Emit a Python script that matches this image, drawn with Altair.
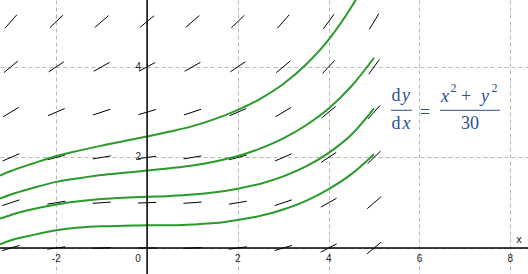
import altair as alt
import pandas as pd
import numpy as np

# ---- data ----
curve_x = [-3.24, -3.0, -2.5, -2.0, -1.5, -1.0, -0.5, 0.0, 0.5, 1.0, 1.5, 2.0, 2.5, 3.0, 3.5, 4.0, 4.5, 5.0]
curve_a = [1.60, 1.70, 1.87, 2.03, 2.15, 2.26, 2.36, 2.46, 2.57, 2.69, 2.85, 3.05, 3.30, 3.62, 4.05, 4.60, 5.32, 6.20]
curve_b = [1.09, 1.18, 1.33, 1.46, 1.54, 1.61, 1.66, 1.71, 1.76, 1.82, 1.91, 2.03, 2.20, 2.42, 2.71, 3.08, 3.57, 4.20]
curve_c = [0.65, 0.73, 0.86, 0.96, 1.03, 1.08, 1.11, 1.13, 1.15, 1.18, 1.23, 1.31, 1.42, 1.58, 1.80, 2.10, 2.50, 3.08]
curve_d = [0.08, 0.17, 0.29, 0.39, 0.45, 0.48, 0.49, 0.50, 0.50, 0.52, 0.55, 0.62, 0.71, 0.85, 1.04, 1.30, 1.63, 2.07]

field_x = [-3, -2, -1, 0, 1, 2, 3, 4, 5]
field_y = [0, 1, 2, 3, 4, 5]

x_ticks = [-2, 0, 2, 4, 6, 8]
x_tick_labels = ["-2", "0", "2", "4", "6", "8"]
y_ticks = [2, 4]
y_tick_labels = ["2", "4"]

X_DOMAIN = [-3.24, 8.39]
Y_DOMAIN = [-0.574, 5.475]

# ---- tables ----
curves = pd.concat([
    pd.DataFrame({"x": curve_x, "y": vals, "curve": name})
    for name, vals in [("a", curve_a), ("b", curve_b), ("c", curve_c), ("d", curve_d)]
])

half = 0.2
rows = []
for xv in field_x:
    for yv in field_y:
        m = (xv ** 2 + yv ** 2) / 30.0
        dx = half / np.sqrt(1 + m * m)
        dy = m * dx
        rows.append({"x1": xv - dx, "x2": xv + dx, "y1": yv - dy, "y2": yv + dy})
field = pd.DataFrame(rows)

xt = pd.DataFrame({"x": x_ticks, "label": x_tick_labels, "y": 0})
xt_main = xt[xt["x"] != 0]
xt_zero = xt[xt["x"] == 0]
yt = pd.DataFrame({"y": y_ticks, "label": y_tick_labels, "x": 0})

xs = alt.Scale(domain=X_DOMAIN, nice=False, zero=False)
ys = alt.Scale(domain=Y_DOMAIN, nice=False, zero=False)

grid_x_axis = alt.Axis(values=[-2, 0, 2, 4, 6, 8], grid=True, gridDash=[4, 3], gridColor="#b8b8b8",
                       gridWidth=1, labels=False, ticks=False, domain=False, title=None)
grid_y_axis = alt.Axis(values=[0, 2, 4], grid=True, gridDash=[4, 3], gridColor="#b8b8b8",
                       gridWidth=1, labels=False, ticks=False, domain=False, title=None)

base_grid = alt.Chart(pd.DataFrame({"x": [0.0], "y": [0.0]})).mark_point(opacity=0).encode(
    x=alt.X("x:Q", scale=xs, axis=grid_x_axis),
    y=alt.Y("y:Q", scale=ys, axis=grid_y_axis),
)

axis_x = alt.Chart(pd.DataFrame({"y": [0]})).mark_rule(color="black", strokeWidth=1.5).encode(
    y=alt.Y("y:Q", scale=ys), x=alt.value(0), x2=alt.value(528))
axis_y = alt.Chart(pd.DataFrame({"x": [0]})).mark_rule(color="black", strokeWidth=1.5).encode(
    x=alt.X("x:Q", scale=xs), y=alt.value(0), y2=alt.value(274))

segs = alt.Chart(field).mark_rule(color="black", strokeWidth=1).encode(
    x=alt.X("x1:Q", scale=xs), x2="x2:Q",
    y=alt.Y("y1:Q", scale=ys), y2="y2:Q")

lines = alt.Chart(curves).mark_line(color="#2a9a2a", strokeWidth=2, clip=True, interpolate="monotone").encode(
    x=alt.X("x:Q", scale=xs), y=alt.Y("y:Q", scale=ys), detail="curve:N")

font = "Liberation Sans"
xlab = alt.Chart(xt_main).mark_text(fontSize=10, font=font, baseline="middle", align="center", dy=11, color="#222").encode(
    x=alt.X("x:Q", scale=xs), y=alt.Y("y:Q", scale=ys), text="label:N")
xlab0 = alt.Chart(xt_zero).mark_text(fontSize=10, font=font, baseline="middle", align="center", dy=11, dx=-9, color="#222").encode(
    x=alt.X("x:Q", scale=xs), y=alt.Y("y:Q", scale=ys), text="label:N")
ylab = alt.Chart(yt).mark_text(fontSize=10, font=font, baseline="middle", align="right", dx=-6, color="#222").encode(
    x=alt.X("x:Q", scale=xs), y=alt.Y("y:Q", scale=ys), text="label:N")
xname = alt.Chart(pd.DataFrame({"t": ["x"]})).mark_text(fontSize=11, font=font, color="#222").encode(
    x=alt.value(519), y=alt.value(240), text="t:N")

# equation  dy/dx = (x^2 + y^2)/30
blue = "#2b4f91"
serif = "Liberation Serif"
eq_upright = pd.DataFrame([
    {"t": "d", "px": 396, "py": 100.5},
    {"t": "d", "px": 396, "py": 128.7},
    {"t": "=", "px": 425, "py": 118},
    {"t": "+", "px": 466, "py": 102},
    {"t": "30", "px": 470, "py": 128.7},
])
eq_italic = pd.DataFrame([
    {"t": "y", "px": 406, "py": 100.5},
    {"t": "x", "px": 406.5, "py": 128.7},
    {"t": "x", "px": 445, "py": 102},
    {"t": "y", "px": 485, "py": 102},
])
eq_sup = pd.DataFrame([
    {"t": "2", "px": 453.5, "py": 92},
    {"t": "2", "px": 494.5, "py": 92},
])
t_up = alt.Chart(eq_upright).mark_text(font=serif, fontSize=18, color=blue, baseline="alphabetic", align="center").encode(
    x=alt.X("px:Q", scale=None), y=alt.Y("py:Q", scale=None), text="t:N")
t_it = alt.Chart(eq_italic).mark_text(font=serif, fontSize=18, fontStyle="italic", color=blue, baseline="alphabetic", align="center").encode(
    x=alt.X("px:Q", scale=None), y=alt.Y("py:Q", scale=None), text="t:N")
t_sup = alt.Chart(eq_sup).mark_text(font=serif, fontSize=12, color=blue, baseline="alphabetic", align="center").encode(
    x=alt.X("px:Q", scale=None), y=alt.Y("py:Q", scale=None), text="t:N")
bars = pd.DataFrame({"a": [391, 440], "b": [412, 500], "c": [110.3, 110.3]})
eq_bars = alt.Chart(bars).mark_rule(color=blue, strokeWidth=1).encode(
    x=alt.X("a:Q", scale=None), x2="b:Q", y=alt.Y("c:Q", scale=None))

chart = alt.layer(base_grid, segs, lines, axis_x, axis_y, xlab, xlab0, ylab, xname,
                  eq_bars, t_up, t_it, t_sup).properties(
    width=528, height=274, padding=0, autosize=alt.AutoSizeParams(type="none"), background="white"
).configure_view(stroke=None)

chart.save("out.html", embed_options={"renderer": "svg", "actions": False})
